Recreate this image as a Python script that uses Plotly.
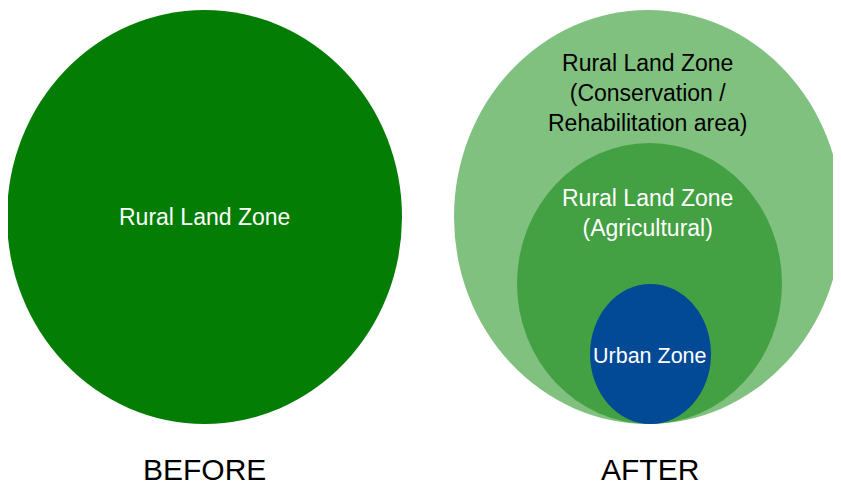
import plotly.graph_objects as go

# Zone ellipses (pixel-space geometry)
zone_names = ["Rural Land Zone (before)", "Rural Land Zone (Conservation / Rehabilitation area)",
              "Rural Land Zone (Agricultural)", "Urban Zone"]
center_x = [204.5, 648, 649.5, 650.5]
center_y = [217, 217, 283.5, 354]
radius_x = [197.5, 194, 132.5, 60.5]
radius_y = [207, 207, 140.5, 70]
fill_colors = ["#037D03", "#80C180", "#43A043", "#034A96"]

labels = ["Rural Land Zone", "Rural Land Zone<br>(Conservation /<br>Rehabilitation area)",
          "Rural Land Zone<br>(Agricultural)", "Urban Zone"]
label_x = [204.5, 647.5, 647, 650]
label_y = [217, 93, 213, 356]
label_colors = ["white", "black", "white", "white"]
label_sizes = [23, 23, 23, 21.5]

panel_titles = ["BEFORE", "AFTER"]
panel_x = [204.5, 649.5]
panel_y = [469, 469]

FONT = "Liberation Sans, Arial, Helvetica, sans-serif"
PAGE_OFFSET = 8  # default body margin of the html page

fig = go.Figure()
fig.add_trace(go.Scatter(x=[0, 841], y=[0, 485], mode="markers",
                         marker=dict(opacity=0), hoverinfo="skip", showlegend=False))

for cx, cy, rx, ry, col in zip(center_x, center_y, radius_x, radius_y, fill_colors):
    fig.add_shape(type="circle", xref="x", yref="y",
                  x0=cx - rx, x1=cx + rx, y0=cy - ry, y1=cy + ry,
                  fillcolor=col, line=dict(width=0), layer="above")

for t, x, y, c, s in zip(labels, label_x, label_y, label_colors, label_sizes):
    fig.add_annotation(x=x, y=y, xref="x", yref="y", text=t, showarrow=False,
                       font=dict(family=FONT, size=s, color=c),
                       xanchor="center", yanchor="middle", align="center")

for t, x, y in zip(panel_titles, panel_x, panel_y):
    fig.add_annotation(x=x, y=y, xref="x", yref="y", text=t, showarrow=False,
                       font=dict(family=FONT, size=30, color="black"),
                       xanchor="center", yanchor="middle")

fig.update_layout(
    width=841, height=485,
    margin=dict(l=0, r=0, t=0, b=0),
    paper_bgcolor="white", plot_bgcolor="white",
    xaxis=dict(range=[PAGE_OFFSET, 841 + PAGE_OFFSET], visible=False, fixedrange=True),
    yaxis=dict(range=[485 + PAGE_OFFSET, PAGE_OFFSET], visible=False, fixedrange=True),
    showlegend=False,
)

fig.write_html("out.html")
